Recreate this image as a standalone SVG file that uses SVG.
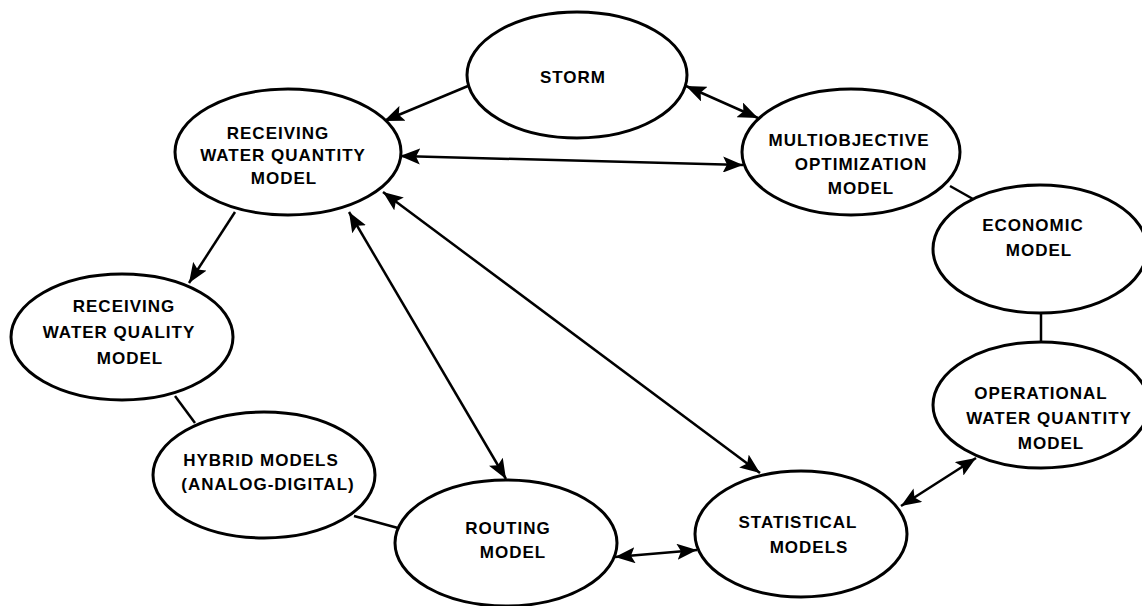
<svg xmlns="http://www.w3.org/2000/svg" width="1142" height="606" viewBox="0 0 1142 606">
<style>
.n{fill:#fff;stroke:#000;stroke-width:3}
.t{font-family:"Liberation Sans",Arial,sans-serif;font-weight:bold;font-size:17px;letter-spacing:1px;text-anchor:middle;fill:#000}
.c{stroke:#000;stroke-width:2.5;fill:none}
.a{marker-end:url(#ah)}
.b{marker-start:url(#ah);marker-end:url(#ah)}
</style>
<defs>
<marker id="ah" markerUnits="userSpaceOnUse" markerWidth="22" markerHeight="16" refX="20" refY="8" orient="auto-start-reverse">
<path d="M0,0 L20,8 L0,16 L4,8 z" fill="#000"/>
</marker>
</defs>
<rect width="1142" height="606" fill="#fff"/>
<g id="connectors">
<line class="c a" x1="468" y1="86" x2="384" y2="121"/>
<line class="c b" x1="686" y1="86" x2="758" y2="118"/>
<line class="c b" x1="400" y1="156" x2="743" y2="165"/>
<line class="c a" x1="235" y1="212" x2="189" y2="283"/>
<line class="c b" x1="349" y1="212" x2="506" y2="479"/>
<line class="c b" x1="383" y1="192" x2="760" y2="473"/>
<line class="c" x1="950" y1="186" x2="973" y2="199"/>
<line class="c" x1="1041" y1="313" x2="1041" y2="343"/>
<line class="c b" x1="976" y1="458" x2="901" y2="506"/>
<line class="c b" x1="697" y1="550" x2="615" y2="557"/>
<line class="c" x1="175" y1="396" x2="195" y2="423"/>
<line class="c" x1="354" y1="516" x2="398" y2="528"/>
</g>
<g id="storm">
<ellipse class="n" cx="577" cy="75" rx="110" ry="63"/>
<text class="t" x="573" y="83">STORM</text>
</g>
<g id="rw-quantity">
<ellipse class="n" cx="288" cy="152" rx="113" ry="63"/>
<text class="t" x="278" y="139">RECEIVING</text>
<text class="t" x="283" y="161">WATER QUANTITY</text>
<text class="t" x="284" y="184">MODEL</text>
</g>
<g id="multiobjective">
<ellipse class="n" cx="851" cy="152" rx="109" ry="63"/>
<text class="t" x="849" y="146">MULTIOBJECTIVE</text>
<text class="t" x="861" y="170">OPTIMIZATION</text>
<text class="t" x="861" y="194">MODEL</text>
</g>
<g id="economic">
<ellipse class="n" cx="1040" cy="249" rx="107" ry="64"/>
<text class="t" x="1033" y="231">ECONOMIC</text>
<text class="t" x="1039" y="256">MODEL</text>
</g>
<g id="operational">
<ellipse class="n" cx="1041" cy="405" rx="108" ry="63"/>
<text class="t" x="1041" y="399">OPERATIONAL</text>
<text class="t" x="1049" y="424">WATER QUANTITY</text>
<text class="t" x="1051" y="449">MODEL</text>
</g>
<g id="statistical">
<ellipse class="n" cx="801" cy="534" rx="106" ry="63"/>
<text class="t" x="798" y="528">STATISTICAL</text>
<text class="t" x="809" y="553">MODELS</text>
</g>
<g id="routing">
<ellipse class="n" cx="506" cy="543" rx="111" ry="63"/>
<text class="t" x="508" y="534">ROUTING</text>
<text class="t" x="513" y="558">MODEL</text>
</g>
<g id="hybrid">
<ellipse class="n" cx="264" cy="475" rx="111" ry="63"/>
<text class="t" x="261" y="466">HYBRID MODELS</text>
<text class="t" x="268" y="490">(ANALOG-DIGITAL)</text>
</g>
<g id="rw-quality">
<ellipse class="n" cx="122" cy="337" rx="111" ry="63"/>
<text class="t" x="124" y="312">RECEIVING</text>
<text class="t" x="119" y="338">WATER QUALITY</text>
<text class="t" x="130" y="364">MODEL</text>
</g>
</svg>
